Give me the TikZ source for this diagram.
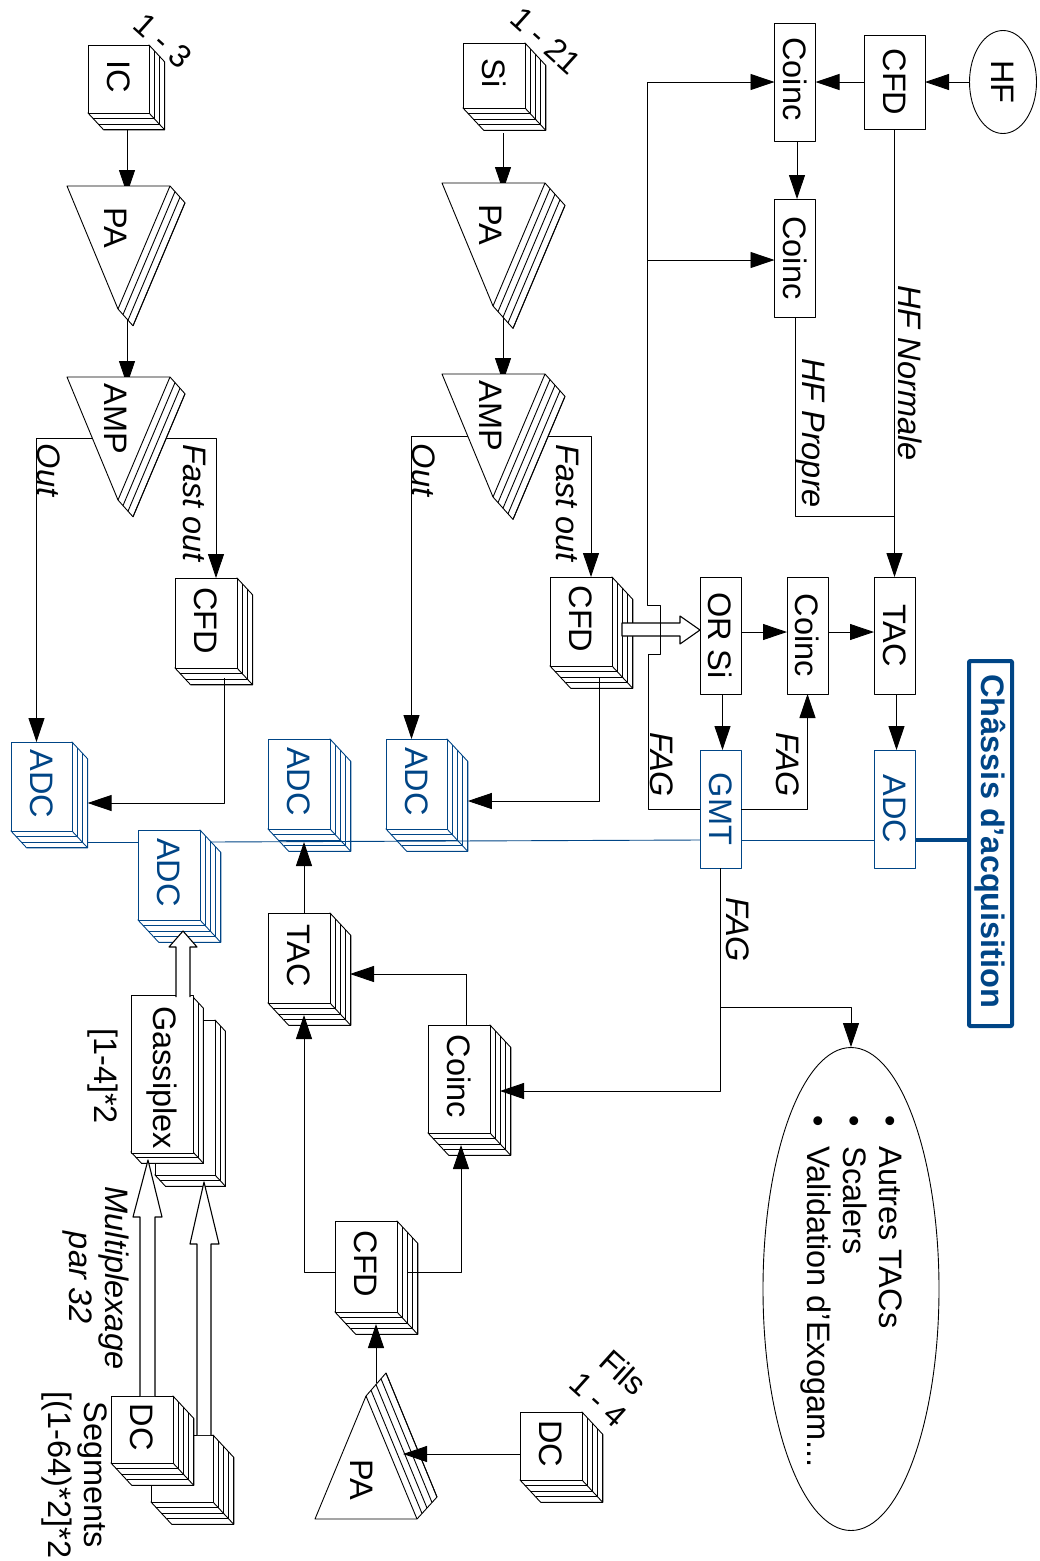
\documentclass[tikz,border=0pt]{standalone}
\usepackage{graphicx}
\usepackage{fontspec}
\setmainfont{Liberation Sans}
\usetikzlibrary{arrows.meta, calc, shapes.geometric}

\definecolor{chassis}{HTML}{004586}

\newcommand{\basefont}{\fontsize{32.5}{36}\selectfont}
\newcommand{\vtext}[1]{\rotatebox{-90}{#1}\hspace{3pt}}

\tikzset{
    face/.style={draw, fill=white, inner sep=0pt, outer sep=0pt, line width=0.9pt},
    wire/.style={line width=0.9pt},
    arrowwire/.style={wire, -{Triangle[length=24pt, width=16pt]}},
    hollow/.style={draw, fill=white, line width=1.1pt},
    busline/.style={line width=0.9pt, draw=chassis},
    tag/.style={rotate=-90, inner sep=0pt},
    tagit/.style={tag, font=\basefont\itshape},
    slanted/.style={rotate=-42, inner sep=0pt, align=center, font=\fontsize{32}{37}\selectfont},
}

% layered box: colour, name, x1, y1, x2, y2, layers, text
\newcommand{\layered}[8][black]{%
    \draw[draw=#1, fill=white, line width=0.9pt]
        (#5, #4) -- ({#5+#7*5.2}, {#4+#7*5.6}) -- ({#5+#7*5.2}, {#6+#7*5.6})
        -- ({#3+#7*5.2}, {#6+#7*5.6}) -- (#3, #6) -- cycle;
    \foreach \i in {1,...,#7} {
        \draw[draw=#1, line width=0.9pt]
            ({#5+\i*5.2}, {#4+\i*5.6}) -- ({#5+\i*5.2}, {#6+\i*5.6}) -- ({#3+\i*5.2}, {#6+\i*5.6});
    }
    \draw[draw=#1, line width=0.9pt] (#5, #6) -- ({#5+#7*5.2}, {#6+#7*5.6});
    \node[face, draw=#1, text=#1, minimum width={(#5-#3)*1pt}, minimum height={(#6-#4)*1pt}]
        (#2) at ({(#3+#5)/2}, {(#4+#6)/2}) {\vtext{#8\hspace*{5pt}}};
    \coordinate (#2-o) at ({(#3+#5+#7*5.2)/2}, {(#4+#6+#7*5.6)/2});
    \coordinate (#2-se) at ({#5+#7*5.2}, {#6+#7*5.6});
}

% layered amplifier, point down: name, left x, top y, layers, text
\newcommand{\ampli}[5]{%
    \draw[fill=white, line width=0.9pt]
        ({#2+103}, #3) -- ({#2+103+#4*5}, {#3+#4*5.6}) -- ({#2+51+#4*5}, {#3+123+#4*5.6})
        -- ({#2+51}, {#3+123}) -- (#2, #3) -- cycle;
    \foreach \i in {1,...,#4} {
        \draw[line width=0.9pt] ({#2+103+\i*5}, {#3+\i*5.6}) -- ({#2+51+\i*5}, {#3+123+\i*5.6});
    }
    \draw[line width=0.9pt] ({#2+103}, #3) -- ({#2+51}, {#3+123});
    \node[tag] (#1) at ({#2+49}, {#3+42}) {#5};
}

\begin{document}
\begin{tikzpicture}[x=1pt, y=-1pt, >=Stealth, line join=round, font=\basefont]
    \useasboundingbox (0,0) rectangle (1039,1561);

    % --- WIRES UNDER THE AMPLIFIERS ---
    \coordinate (tapA) at (118,438);
    \coordinate (tapB) at (494,436);
    \coordinate (paAin) at (127,194);
    \coordinate (ampAin) at (127,385);
    \coordinate (paBin) at (503,191);
    \coordinate (ampBin) at (503,382);

    \draw[arrowwire] (127,130) -- (paAin);
    \draw[arrowwire] (127,310) -- (ampAin);
    \draw[arrowwire] (503,133) -- (paBin);
    \draw[arrowwire] (503,310) -- (ampBin);

    % --- FIRST COLUMN (IC) ---
    \layered{ic}{88}{45}{149}{113}{3}{IC}
    \ampli{paA}{67}{186}{3}{PA}
    \layered{cfdA}{175}{578}{237}{668}{3}{CFD}
    \layered[chassis]{adcA}{11}{742}{72}{831}{3}{ADC}
    \draw[arrowwire] (tapA) -| ([xshift=-5pt]adcA.north);
    \draw[arrowwire] (tapA) -| ([xshift=10pt]cfdA.north);
    \ampli{ampA}{67}{377}{3}{AMP}

    % --- SECOND COLUMN (SI) ---
    \layered{si}{463}{43}{525}{108}{4}{Si}
    \ampli{paB}{442}{183}{4}{PA}
    \layered{cfdB}{550}{577}{612}{666}{4}{CFD}
    \layered[chassis]{adcB}{386}{739}{447}{829}{4}{ADC}
    \draw[arrowwire] (tapB) -| ([xshift=-5pt]adcB.north);
    \draw[arrowwire] (tapB) -| ([xshift=10pt]cfdB.north);
    \ampli{ampB}{442}{374}{4}{AMP}

    % --- HF AND COINCIDENCES ---
    \node[ellipse, draw, line width=0.9pt, inner sep=0pt, minimum width=67pt, minimum height=103pt] (hf) at (1003,82) {\vtext{HF}};
    \node[face, minimum width=61pt, minimum height=94pt] (cfdH) at (894.5,82) {\vtext{CFD}};
    \node[face, minimum width=41pt, minimum height=118pt] (coincA) at (795,82) {\vtext{Coinc\hspace*{6pt}}};
    \node[face, minimum width=41pt, minimum height=118pt] (coincB) at (795,258) {\vtext{Coinc}};
    \node[face, minimum width=41pt, minimum height=117pt] (orsi) at (720.5,635.5) {\vtext{OR Si}};
    \node[face, minimum width=41pt, minimum height=117pt] (coincC) at (807.5,635.5) {\vtext{Coinc}};
    \node[face, minimum width=41pt, minimum height=117pt] (tacH) at (894.5,635.5) {\vtext{TAC}};
    \node[face, draw=chassis, text=chassis, minimum width=41pt, minimum height=118pt] (gmt) at (720.5,809) {\vtext{GMT}};
    \node[face, draw=chassis, text=chassis, minimum width=41pt, minimum height=118pt] (adcH) at (894.5,809) {\vtext{ADC}};

    \draw[arrowwire] (hf) -- (cfdH);
    \draw[arrowwire] (cfdH) -- (coincA);
    \draw[arrowwire] ([xshift=2pt]coincA.south) -- ([xshift=2pt]coincB.north);
    \draw[arrowwire] (cfdH.south) -- (tacH.north);
    \draw[wire] (coincB.south) |- (cfdH.south |- 0,516);
    \draw[arrowwire] (orsi.east |- 0,632) -- (coincC.west |- 0,632);
    \draw[arrowwire] (coincC.east |- 0,632) -- (tacH.west |- 0,632);
    \draw[arrowwire] ([xshift=2pt]orsi.south) -- ([xshift=2pt]gmt.north);
    \draw[arrowwire] ([xshift=2pt]tacH.south) -- ([xshift=2pt]adcH.north);
    \draw[arrowwire] (gmt.east) -| (coincC.south);

    % hollow arrow, then the FAG line with its jump over it
    \draw[hollow] (622,623) -- (680,623) -- (680,616) -- (orsi.west |- 0,630) -- (680,644) -- (680,636) -- (622,636) -- cycle;
    \coordinate (fagA) at (648,654);
    \coordinate (fagB) at (647,605);
    \draw[wire] (gmt.west) -| (fagA) -- (660,654) -- (660,605) -- (fagB) -- (647,82);
    \draw[arrowwire] (647,82) -- (coincA.west);
    \draw[arrowwire] (647,260) -- (coincB.west |- 0,260);

    % --- CFD TO ADC ---
    \draw[arrowwire] (224,678) |- (adcA-se |- 0,803);
    \draw[arrowwire] (599,678) |- (adcB-se |- 0,801);

    % --- LOWER PART: TAC, COINC, CFD, PA, DC ---
    \layered[chassis]{adcC}{268}{739}{330}{829}{4}{ADC}
    \layered{tacL}{268}{913}{330}{1003}{4}{TAC}
    \layered{coincL}{428}{1025}{490}{1133}{4}{Coinc}
    \layered{cfdL}{335}{1221}{397}{1312}{4}{CFD}
    \layered{dcF}{520}{1412}{582}{1480}{4}{DC}

    % the PA points up and has its layers on the slant side
    \coordinate (paLin) at (376,1383);
    \draw[arrowwire] (paLin) -- (376,1324);
    \draw[fill=white, line width=0.9pt] (315,1519) -- (366,1396) -- (386,1373) -- (437,1497) -- (417,1519) -- cycle;
    \foreach \i in {1,2,3,4} {
        \draw[line width=0.9pt] ({366+\i*5},{1396-\i*5.75}) -- ({417+\i*5},{1519-\i*5.5});
    }
    \draw[line width=0.9pt] (366,1396) -- (417,1519);
    \node[tag] (paL) at (362,1480) {PA};
    \draw[arrowwire] (dcF.west |- 0,1454) -- (403,1454);

    \draw[arrowwire] (tacL.north -| 304,0) -- (304,842);
    \draw[arrowwire] (cfdL.west |- 0,1272) -| (304,1015);
    \draw[arrowwire] (407,1272) -| (461,1145);
    \draw[wire] (466,1025) -- (466,974);
    \draw[arrowwire] (466,974) -- (350,974);

    % --- FAG TOWARDS COINC AND THE LIST ---
    \coordinate (fagC) at (720,1007);
    \draw[arrowwire] (gmt.south) |- (500,1091);
    \node[ellipse, draw, line width=0.9pt, inner sep=0pt, minimum width=176pt, minimum height=483pt] (autres) at (851,1289) {};
    \draw[arrowwire] (fagC) -| (autres.north);
    \node[rotate=-90, anchor=north west, align=left, inner sep=0pt] (liste) at (902,1115)
        {•\hspace{20pt}Autres TACs\\•\hspace{20pt}Scalers\\•\hspace{20pt}Validation d'Exogam...};

    % --- GASSIPLEX AND DC SEGMENTS ---
    \layered{gasB}{155}{1020}{215}{1175}{2}{}
    \layered{dcB}{151}{1435}{213}{1502}{4}{}
    \draw[hollow] (197,1435) -- (197,1244) -- (190,1244) -- (204,1182) -- (219,1244) -- (211,1244) -- (211,1435);
    \layered{gasF}{131}{997}{193}{1152}{2}{\hspace*{11pt}Gassiplex}
    \layered{dcF2}{111}{1396}{173}{1463}{4}{DC}
    \draw[hollow] (140,1396) -- (140,1217) -- (133,1217) -- (148,1160) -- (162,1217) -- (155,1217) -- (155,1396);
    \layered[chassis]{adcG}{138}{830}{200}{920}{4}{ADC}
    \draw[hollow] (176,997) -- (176,947) -- (169,947) -- (183,931) -- (197,947) -- (190,947) -- (190,997);

    % --- ACQUISITION BUS ---
    \coordinate (bus) at (0,840);
    \draw[busline] (adcA-se |- 0,842) -- (adcG.west |- 0,842);
    \draw[busline] (210,842) -- (gmt.west |- bus);
    \draw[busline] (gmt.east |- bus) -- (adcH.west |- bus);
    \node[draw=chassis, text=chassis, line width=4pt, rounded corners=1pt, inner sep=0pt, minimum width=43pt, minimum height=365pt, font=\basefont\bfseries] (chassisbox) at (990.5,843.5) {\rotatebox{-90}{Châssis d'acquisition\hspace*{4pt}}\hspace{3pt}};
    \draw[draw=chassis, line width=4pt] (adcH.east |- bus) -- (chassisbox.west |- bus);

    % --- LABELS ---
    \node[slanted] (countA) at (163,41) {1 - 3};
    \node[slanted] (countB) at (546,41) {1 - 21};
    \node[slanted] (countC) at (611,1386) {Fils\\1 - 4};
    \node[tagit] (outA) at (49,470) {Out};
    \node[tagit] (fastA) at (195,503) {Fast out};
    \node[tagit] (outB) at (424,470) {Out};
    \node[tagit] (fastB) at (568,503) {Fast out};
    \node[tagit] (hfn) at (910,373) {HF Normale};
    \node[tagit] (hfp) at (810,433) {HF Propre};
    \node[tagit] (fagL) at (662,765) {FAG};
    \node[tagit] (fagR) at (788,765) {FAG};
    \node[tagit] (fagD) at (738,930) {FAG};
    \node[tag] (gasN) at (103,1076) {[1-4]*2};
    \node[tagit, align=center] (mux) at (95.5,1278) {Multiplexage\\par 32};
    \node[tag, align=center] (seg) at (74,1475) {Segments\\{}[(1-64)*2]*2};

\end{tikzpicture}
\end{document}
